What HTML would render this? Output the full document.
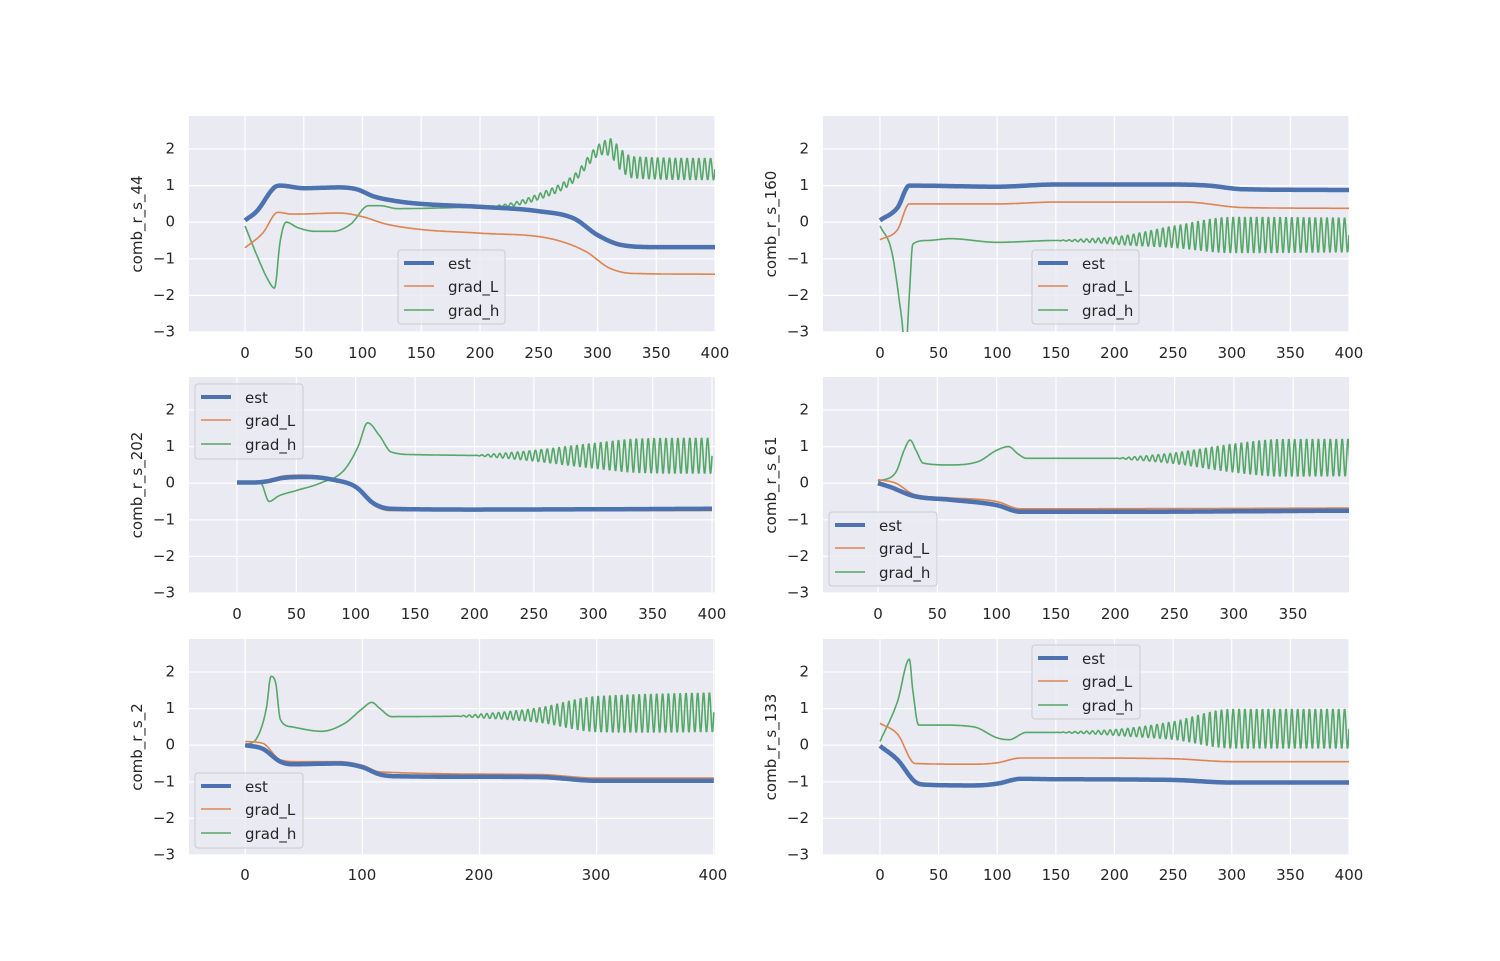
<!DOCTYPE html>
<html><head><meta charset="utf-8"><style>
body{margin:0;background:#fff}
svg{display:block}
text{font-family:"DejaVu Sans","Liberation Sans",sans-serif;font-size:15px;fill:#262626}
.yt{text-anchor:end;dominant-baseline:middle}
.xt{text-anchor:middle}
.yl{text-anchor:middle}
</style></head><body>
<svg id="s" width="1500" height="961" xmlns="http://www.w3.org/2000/svg">
<g id="bg"></g>
<g id="lab">
<text class="yt" x="175" y="332">−3</text><text class="yt" x="175" y="295.4">−2</text><text class="yt" x="175" y="258.8">−1</text><text class="yt" x="175" y="222.2">0</text><text class="yt" x="175" y="185.6">1</text><text class="yt" x="175" y="149">2</text>
<text class="yt" x="175" y="593">−3</text><text class="yt" x="175" y="556.4">−2</text><text class="yt" x="175" y="519.8">−1</text><text class="yt" x="175" y="483.2">0</text><text class="yt" x="175" y="446.6">1</text><text class="yt" x="175" y="410">2</text>
<text class="yt" x="175" y="855">−3</text><text class="yt" x="175" y="818.4">−2</text><text class="yt" x="175" y="781.8">−1</text><text class="yt" x="175" y="745.2">0</text><text class="yt" x="175" y="708.6">1</text><text class="yt" x="175" y="672">2</text>
<text class="yt" x="809" y="332">−3</text><text class="yt" x="809" y="295.4">−2</text><text class="yt" x="809" y="258.8">−1</text><text class="yt" x="809" y="222.2">0</text><text class="yt" x="809" y="185.6">1</text><text class="yt" x="809" y="149">2</text>
<text class="yt" x="809" y="593">−3</text><text class="yt" x="809" y="556.4">−2</text><text class="yt" x="809" y="519.8">−1</text><text class="yt" x="809" y="483.2">0</text><text class="yt" x="809" y="446.6">1</text><text class="yt" x="809" y="410">2</text>
<text class="yt" x="809" y="855">−3</text><text class="yt" x="809" y="818.4">−2</text><text class="yt" x="809" y="781.8">−1</text><text class="yt" x="809" y="745.2">0</text><text class="yt" x="809" y="708.6">1</text><text class="yt" x="809" y="672">2</text>
<text class="xt" x="245" y="358">0</text><text class="xt" x="303.75" y="358">50</text><text class="xt" x="362.5" y="358">100</text><text class="xt" x="421.25" y="358">150</text><text class="xt" x="480" y="358">200</text><text class="xt" x="538.75" y="358">250</text><text class="xt" x="597.5" y="358">300</text><text class="xt" x="656.25" y="358">350</text><text class="xt" x="715" y="358">400</text>
<text class="xt" x="880" y="358">0</text><text class="xt" x="938.6" y="358">50</text><text class="xt" x="997.3" y="358">100</text><text class="xt" x="1055.9" y="358">150</text><text class="xt" x="1114.5" y="358">200</text><text class="xt" x="1173.1" y="358">250</text><text class="xt" x="1231.8" y="358">300</text><text class="xt" x="1290.4" y="358">350</text><text class="xt" x="1349" y="358">400</text>
<text class="xt" x="237" y="619">0</text><text class="xt" x="296.4" y="619">50</text><text class="xt" x="355.75" y="619">100</text><text class="xt" x="415.1" y="619">150</text><text class="xt" x="474.5" y="619">200</text><text class="xt" x="533.9" y="619">250</text><text class="xt" x="593.25" y="619">300</text><text class="xt" x="652.6" y="619">350</text><text class="xt" x="712" y="619">400</text>
<text class="xt" x="878" y="619">0</text><text class="xt" x="937.3" y="619">50</text><text class="xt" x="996.6" y="619">100</text><text class="xt" x="1055.9" y="619">150</text><text class="xt" x="1115.2" y="619">200</text><text class="xt" x="1174.4" y="619">250</text><text class="xt" x="1233.7" y="619">300</text><text class="xt" x="1293" y="619">350</text>
<text class="xt" x="245" y="880">0</text><text class="xt" x="362" y="880">100</text><text class="xt" x="479" y="880">200</text><text class="xt" x="596" y="880">300</text><text class="xt" x="713" y="880">400</text>
<text class="xt" x="880" y="880">0</text><text class="xt" x="938.6" y="880">50</text><text class="xt" x="997.3" y="880">100</text><text class="xt" x="1055.9" y="880">150</text><text class="xt" x="1114.5" y="880">200</text><text class="xt" x="1173.1" y="880">250</text><text class="xt" x="1231.8" y="880">300</text><text class="xt" x="1290.4" y="880">350</text><text class="xt" x="1349" y="880">400</text>
<text class="yl" transform="translate(142,224) rotate(-90)">comb_r_s_44</text>
<text class="yl" transform="translate(776,224) rotate(-90)">comb_r_s_160</text>
<text class="yl" transform="translate(142,485) rotate(-90)">comb_r_s_202</text>
<text class="yl" transform="translate(776,485) rotate(-90)">comb_r_s_61</text>
<text class="yl" transform="translate(142,747) rotate(-90)">comb_r_s_2</text>
<text class="yl" transform="translate(776,747) rotate(-90)">comb_r_s_133</text>
</g>
<g id="data"></g>
<g id="leg">
<g transform="translate(398,250)"><rect x="0" y="0" width="107" height="74" rx="3" fill="#eaeaf2" fill-opacity="0.8" stroke="#ccc"/><line x1="6" x2="36" y1="13" y2="13" stroke="#4c72b0" stroke-width="4"/><line x1="6" x2="36" y1="36" y2="36" stroke="#dd8452" stroke-width="1.6"/><line x1="6" x2="36" y1="60" y2="60" stroke="#55a868" stroke-width="1.6"/><text x="50" y="19">est</text><text x="50" y="42">grad_L</text><text x="50" y="66">grad_h</text></g>
<g transform="translate(1032,250)"><rect x="0" y="0" width="107" height="74" rx="3" fill="#eaeaf2" fill-opacity="0.8" stroke="#ccc"/><line x1="6" x2="36" y1="13" y2="13" stroke="#4c72b0" stroke-width="4"/><line x1="6" x2="36" y1="36" y2="36" stroke="#dd8452" stroke-width="1.6"/><line x1="6" x2="36" y1="60" y2="60" stroke="#55a868" stroke-width="1.6"/><text x="50" y="19">est</text><text x="50" y="42">grad_L</text><text x="50" y="66">grad_h</text></g>
<g transform="translate(195,384)"><rect x="0" y="0" width="108" height="75" rx="3" fill="#eaeaf2" fill-opacity="0.8" stroke="#ccc"/><line x1="6" x2="36" y1="13" y2="13" stroke="#4c72b0" stroke-width="4"/><line x1="6" x2="36" y1="36" y2="36" stroke="#dd8452" stroke-width="1.6"/><line x1="6" x2="36" y1="60" y2="60" stroke="#55a868" stroke-width="1.6"/><text x="50" y="19">est</text><text x="50" y="42">grad_L</text><text x="50" y="66">grad_h</text></g>
<g transform="translate(829,512)"><rect x="0" y="0" width="108" height="74" rx="3" fill="#eaeaf2" fill-opacity="0.8" stroke="#ccc"/><line x1="6" x2="36" y1="13" y2="13" stroke="#4c72b0" stroke-width="4"/><line x1="6" x2="36" y1="36" y2="36" stroke="#dd8452" stroke-width="1.6"/><line x1="6" x2="36" y1="60" y2="60" stroke="#55a868" stroke-width="1.6"/><text x="50" y="19">est</text><text x="50" y="42">grad_L</text><text x="50" y="66">grad_h</text></g>
<g transform="translate(195,773)"><rect x="0" y="0" width="108" height="75" rx="3" fill="#eaeaf2" fill-opacity="0.8" stroke="#ccc"/><line x1="6" x2="36" y1="13" y2="13" stroke="#4c72b0" stroke-width="4"/><line x1="6" x2="36" y1="36" y2="36" stroke="#dd8452" stroke-width="1.6"/><line x1="6" x2="36" y1="60" y2="60" stroke="#55a868" stroke-width="1.6"/><text x="50" y="19">est</text><text x="50" y="42">grad_L</text><text x="50" y="66">grad_h</text></g>
<g transform="translate(1032,645)"><rect x="0" y="0" width="108" height="74" rx="3" fill="#eaeaf2" fill-opacity="0.8" stroke="#ccc"/><line x1="6" x2="36" y1="13" y2="13" stroke="#4c72b0" stroke-width="4"/><line x1="6" x2="36" y1="36" y2="36" stroke="#dd8452" stroke-width="1.6"/><line x1="6" x2="36" y1="60" y2="60" stroke="#55a868" stroke-width="1.6"/><text x="50" y="19">est</text><text x="50" y="42">grad_L</text><text x="50" y="66">grad_h</text></g>
</g>
</svg>
<script>
var NS="http://www.w3.org/2000/svg";
function el(p,t,a){var e=document.createElementNS(NS,t);for(var k in a)e.setAttribute(k,a[k]);p.appendChild(e);return e;}
function mono(pts){var n=pts.length,d=[],m=[];for(var i=0;i<n-1;i++)d.push((pts[i+1][1]-pts[i][1])/(pts[i+1][0]-pts[i][0]));
 m[0]=d[0];m[n-1]=d[n-2];for(i=1;i<n-1;i++){m[i]=(d[i-1]*d[i]<=0)?0:(d[i-1]+d[i])/2;}
 for(i=0;i<n-1;i++){if(d[i]==0){m[i]=0;m[i+1]=0;continue;}var a=m[i]/d[i],b=m[i+1]/d[i],s=a*a+b*b;if(s>9){var t=3/Math.sqrt(s);m[i]=t*a*d[i];m[i+1]=t*b*d[i];}}
 return function(x){if(x<=pts[0][0])return pts[0][1];if(x>=pts[n-1][0])return pts[n-1][1];for(var i=0;i<n-1;i++){if(x<=pts[i+1][0]){var h=pts[i+1][0]-pts[i][0],t=(x-pts[i][0])/h,t2=t*t,t3=t2*t;return (2*t3-3*t2+1)*pts[i][1]+(t3-2*t2+t)*h*m[i]+(-2*t3+3*t2)*pts[i+1][1]+(t3-t2)*h*m[i+1];}}};}
var panels=[
{L:189,R:715,T:116,B:332,x0:-47.7,x1:400,xt:[0,50,100,150,200,250,300,350,400],
est:[[0,0.05],[10,0.3],[25,0.95],[30,1.0],[50,0.93],[80,0.95],[95,0.9],[110,0.7],[130,0.57],[150,0.5],[200,0.42],[250,0.3],[280,0.1],[300,-0.35],[320,-0.62],[350,-0.68],[400,-0.68]],
gl:[[0,-0.7],[15,-0.3],[28,0.27],[40,0.22],[80,0.25],[100,0.15],[120,-0.05],[150,-0.2],[200,-0.3],[260,-0.45],[290,-0.8],[310,-1.25],[330,-1.4],[400,-1.42]],
gh:[[0,-0.1],[10,-0.9],[20,-1.6],[25,-1.8],[30,-0.5],[35,0],[45,-0.15],[60,-0.25],[75,-0.25],[90,-0.05],[105,0.45],[115,0.45],[130,0.37],[180,0.4],[220,0.45],[250,0.7],[280,1.2],[300,1.95],[310,2.05],[320,1.7],[330,1.5],[400,1.45]],
amp:[[200,0],[250,0.08],[300,0.15],[320,0.3],[400,0.3]]},
{L:823,R:1349,T:116,B:332,x0:-48.6,x1:400,xt:[0,50,100,150,200,250,300,350,400],
est:[[0,0.05],[15,0.4],[25,1.0],[100,0.97],[150,1.03],[250,1.03],[280,1.0],[310,0.9],[400,0.88]],
gl:[[0,-0.48],[15,-0.2],[25,0.5],[100,0.5],[150,0.55],[260,0.55],[310,0.4],[400,0.38]],
gh:[[0,-0.1],[10,-0.8],[18,-2.5],[22,-3.5],[25,-2.0],[28,-0.6],[40,-0.5],[60,-0.45],[100,-0.55],[150,-0.5],[200,-0.5],[250,-0.4],[300,-0.35],[400,-0.35]],
amp:[[150,0],[200,0.1],[250,0.3],[300,0.5],[320,0.5],[400,0.48]]},
{L:189,R:715,T:377,B:593,x0:-40.4,x1:402.5,xt:[0,50,100,150,200,250,300,350,400],
est:[[0,0.02],[15,0.02],[25,0.05],[40,0.15],[60,0.17],[80,0.1],[100,-0.1],[115,-0.55],[130,-0.7],[200,-0.72],[400,-0.7]],
gl:[[0,0.02],[15,0.02],[25,0.08],[40,0.2],[55,0.22],[80,0.12],[100,-0.12],[115,-0.6],[130,-0.75],[400,-0.75]],
gh:[[0,0.02],[20,0],[27,-0.5],[35,-0.35],[50,-0.2],[70,0],[90,0.35],[102,1.0],[110,1.65],[120,1.3],[130,0.85],[150,0.78],[300,0.75],[400,0.75]],
amp:[[200,0],[250,0.15],[300,0.35],[340,0.48],[400,0.5]]},
{L:823,R:1349,T:377,B:593,x0:-46.4,x1:397,xt:[0,50,100,150,200,250,300,350],
est:[[0,0],[10,-0.1],[30,-0.35],[60,-0.45],[100,-0.6],[120,-0.78],[200,-0.78],[400,-0.75]],
gl:[[0,0.1],[15,0.0],[30,-0.3],[60,-0.4],[100,-0.5],[120,-0.7],[400,-0.68]],
gh:[[0,0.05],[15,0.3],[22,0.9],[27,1.18],[32,0.9],[38,0.55],[60,0.5],[85,0.6],[100,0.9],[110,1.0],[118,0.8],[125,0.68],[200,0.68],[400,0.7]],
amp:[[200,0],[250,0.15],[300,0.4],[340,0.52],[400,0.52]]},
{L:189,R:715,T:639,B:855,x0:-48,x1:401,xt:[0,100,200,300,400],
est:[[0,0],[15,-0.1],[30,-0.45],[40,-0.52],[80,-0.5],[100,-0.6],[115,-0.8],[130,-0.85],[250,-0.87],[300,-0.97],[400,-0.97]],
gl:[[0,0.1],[15,0.05],[30,-0.4],[45,-0.45],[80,-0.45],[100,-0.55],[115,-0.73],[250,-0.8],[300,-0.9],[400,-0.9]],
gh:[[0,0],[10,0.2],[18,1.0],[22,1.88],[26,1.7],[30,0.7],[40,0.5],[65,0.38],[85,0.6],[100,1.0],[108,1.17],[115,1.0],[125,0.78],[200,0.8],[300,0.85],[400,0.9]],
amp:[[180,0],[250,0.2],[300,0.5],[400,0.55]]},
{L:823,R:1349,T:639,B:855,x0:-48.6,x1:400,xt:[0,50,100,150,200,250,300,350,400],
est:[[0,-0.02],[15,-0.4],[30,-1.0],[40,-1.08],[80,-1.1],[100,-1.05],[120,-0.92],[150,-0.93],[250,-0.95],[300,-1.02],[400,-1.02]],
gl:[[0,0.6],[15,0.3],[30,-0.5],[80,-0.52],[100,-0.48],[120,-0.35],[150,-0.35],[250,-0.37],[300,-0.45],[400,-0.45]],
gh:[[0,0.1],[15,1.2],[25,2.35],[28,1.5],[33,0.55],[50,0.55],[80,0.5],[100,0.2],[110,0.15],[125,0.35],[200,0.35],[300,0.45],[400,0.45]],
amp:[[150,0],[200,0.08],[250,0.25],[300,0.55],[400,0.55]]}
];
var bg=document.getElementById("bg"),dg=document.getElementById("data");
panels.forEach(function(p,i){
 el(bg,"rect",{x:p.L,y:p.T,width:p.R-p.L,height:p.B-p.T,fill:"#eaeaf2"});
 var sx=function(v){return p.L+(v-p.x0)/(p.x1-p.x0)*(p.R-p.L);};
 var sy=function(v){return p.B-(v+3)*36.6;};
 p.xt.forEach(function(v){el(bg,"line",{x1:sx(v),x2:sx(v),y1:p.T,y2:p.B,stroke:"#fff","stroke-width":1.2});});
 for(var v=-3;v<=2;v++)el(bg,"line",{x1:p.L,x2:p.R,y1:sy(v),y2:sy(v),stroke:"#fff","stroke-width":1.2});
 var cid="c"+i;var cp=el(dg,"clipPath",{id:cid});el(cp,"rect",{x:p.L,y:p.T,width:p.R-p.L,height:p.B-p.T});
 var g=el(dg,"g",{"clip-path":"url(#"+cid+")"});
 function path(pts,osc,col,w){var f=mono(pts),fa=osc?mono(osc):null;var d="";for(var x=0;x<=400;x+=0.5){var y=f(x);if(fa){var a=Math.max(0,fa(x));y+=a*Math.sin(2*Math.PI*x/5);}d+=(x?"L":"M")+sx(x).toFixed(1)+","+sy(y).toFixed(1);}el(g,"path",{d:d,fill:"none",stroke:col,"stroke-width":w,"stroke-linejoin":"round"});}
 path(p.gh,p.amp,"#55a868",1.6);
 path(p.gl,null,"#dd8452",1.6);
 path(p.est,null,"#4c72b0",4.5);
});
</script>
</body></html>
